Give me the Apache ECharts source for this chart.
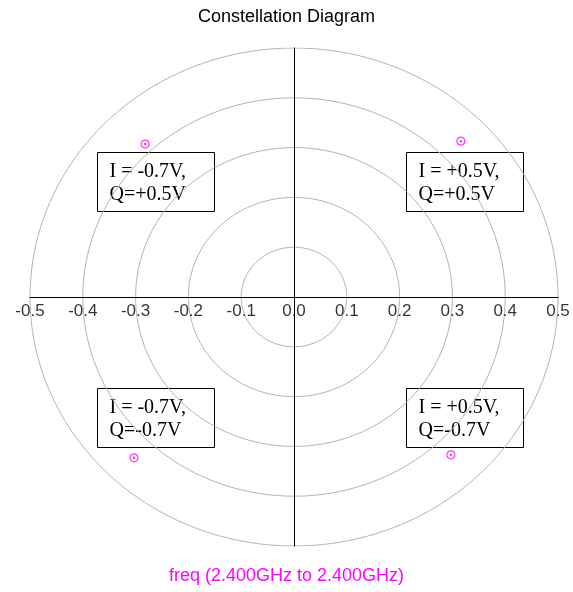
<!DOCTYPE html>
<html>
<head>
<meta charset="utf-8">
<script src="https://cdn.jsdelivr.net/npm/echarts@6/dist/echarts.min.js"></script>
<style>
  html, body { margin: 0; padding: 0; background: #fff; }
  #chart { width: 573px; height: 592px; }
</style>
</head>
<body>
<div id="chart"></div>
<script>
// Reference rings of constant magnitude
const ringRadii = [0.1, 0.2, 0.3, 0.4, 0.5];
// Tick labels placed along the in-phase axis
const tickValues = [-0.5, -0.4, -0.3, -0.2, -0.1, 0.0, 0.1, 0.2, 0.3, 0.4, 0.5];
// Measured constellation points (I, Q)
const pointI = [-0.282, 0.316, -0.303, 0.297];
const pointQ = [0.307, 0.313, -0.323, -0.317];
// Box annotations for each symbol
const boxLines = [
  ['I = -0.7V,', 'Q=+0.5V'],
  ['I = +0.5V,', 'Q=+0.5V'],
  ['I = -0.7V,', 'Q=-0.7V'],
  ['I = +0.5V,', 'Q=-0.7V']
];
const titleText = 'Constellation Diagram';
const sweepText = 'freq (2.400GHz to 2.400GHz)';

function ringPoints(r) {
  const pts = [];
  for (let k = 0; k <= 360; k += 2) {
    const a = k * Math.PI / 180;
    pts.push([r * Math.cos(a), r * Math.sin(a)]);
  }
  return pts;
}

const chart = echarts.init(document.getElementById('chart'), null, { renderer: 'canvas' });

const ringSeries = ringRadii.map(r => ({
  type: 'line',
  data: ringPoints(r),
  showSymbol: false,
  silent: true,
  lineStyle: { color: '#b4b4b4', width: 1 },
  z: 1
}));

const pts = pointI.map((v, i) => [v, pointQ[i]]);

// Box placement (pixel anchors of each annotation box)
const boxPos = [[97, 152], [406, 152], [97, 388], [406, 388]];
const boxGraphics = boxLines.map((lines, i) => ({
  type: 'group',
  left: boxPos[i][0],
  top: boxPos[i][1],
  children: [
    { type: 'rect', shape: { x: 0, y: 0, width: 117, height: 59 },
      style: { fill: '#fff', stroke: '#000', lineWidth: 1 } },
    { type: 'text', x: 12, y: 8,
      style: { text: lines.join('\n'), fill: '#000',
        font: '20px "Liberation Serif", "Times New Roman", serif', lineHeight: 23 } }
  ]
}));

chart.setOption({
  animation: false,
  backgroundColor: '#fff',
  title: {
    text: titleText, left: 'center', top: 3,
    textStyle: { fontFamily: 'Liberation Sans, Arial, sans-serif', fontSize: 18, fontWeight: 'normal', color: '#000' }
  },
  grid: { left: 30, right: 15, top: 48, bottom: 46 },
  xAxis: {
    type: 'value', min: -0.5, max: 0.5, interval: 0.1,
    axisLine: { onZero: true, lineStyle: { color: '#000', width: 1 } },
    axisTick: { show: false },
    splitLine: { show: false },
    axisLabel: { show: false },
    z: 3
  },
  yAxis: {
    type: 'value', min: -0.5, max: 0.5, interval: 0.1,
    axisLine: { onZero: true, lineStyle: { color: '#000', width: 1 } },
    axisTick: { show: false },
    splitLine: { show: false },
    axisLabel: { show: false },
    z: 3
  },
  series: ringSeries.concat([
    {
      // tick labels sitting just under the horizontal axis
      type: 'scatter',
      data: tickValues.map(v => [v, 0]),
      symbolSize: 0,
      silent: true,
      label: {
        show: true, position: 'bottom', distance: 6,
        color: '#000', fontSize: 17, fontFamily: 'Liberation Sans, Arial, sans-serif',
        formatter: p => p.value[0].toFixed(1)
      },
      z: 4
    },
    {
      type: 'scatter', data: pts, symbol: 'circle', symbolSize: 8,
      itemStyle: { color: 'rgba(255,255,255,0)', borderColor: '#ff00ff', borderWidth: 1.2 },
      z: 5
    },
    {
      type: 'scatter', data: pts, symbol: 'circle', symbolSize: 2.5,
      itemStyle: { color: '#ff00ff' },
      z: 6
    }
  ]),
  graphic: boxGraphics.concat([
    {
      type: 'text', left: 'center', top: 567,
      style: { text: sweepText, fill: '#ff00ff',
        font: '18px "Liberation Sans", Arial, sans-serif' }
    }
  ])
});
</script>
</body>
</html>
